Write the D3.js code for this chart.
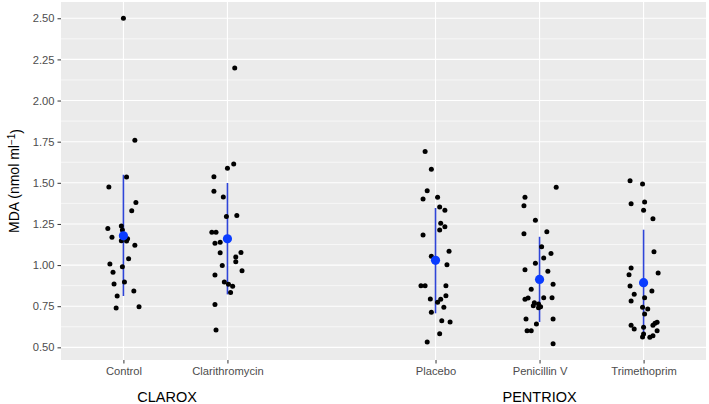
<!DOCTYPE html>
<html>
<head>
<meta charset="utf-8">
<script src="https://cdn.jsdelivr.net/npm/d3@7"></script>
<style>
html,body{margin:0;padding:0;background:#fff;}
svg{display:block;font-family:"Liberation Sans",Arial,sans-serif;}
</style>
</head>
<body>
<svg id="chart" width="709" height="404"></svg>
<script>
// ---- data ----
const categories = ["Control", "Clarithromycin", "Placebo", "Penicillin V", "Trimethoprim"];
const catPositions = [1, 2, 4, 5, 6];
const studyLabels = ["CLAROX", "PENTRIOX"];
const studyPositions = [1.42, 5.0];
const yTicks = [0.5, 0.75, 1.0, 1.25, 1.5, 1.75, 2.0, 2.25, 2.5];

const controlValues = [2.50,1.758,1.535,1.474,1.381,1.330,1.223,1.237,1.213,1.169,1.148,1.160,1.146,1.120,1.039,1.006,0.990,0.956,0.897,0.885,0.842,0.812,0.739,0.747];
const controlJitter = [0,.11,.03,-.14,.12,.08,-.15,-.02,-.01,-.11,-.02,.04,.03,.11,.05,-.13,-.01,-.10,.01,-.09,.10,-.06,-.07,.15];

const clariValues = [2.198,1.614,1.588,1.537,1.448,1.414,1.296,1.302,1.199,1.199,1.132,1.138,1.075,1.077,1.049,1.020,0.998,0.966,0.940,0.897,0.883,0.871,0.834,0.761,0.605];
const clariJitter = [.07,.06,0,-.13,-.13,-.04,-.01,.09,-.15,-.11,-.12,-.07,-.07,.13,.08,.08,-.05,.14,-.12,-.03,.01,.05,.03,-.12,-.11];

const placeboValues = [1.691,1.582,1.452,1.401,1.412,1.353,1.333,1.254,1.233,1.213,1.183,1.084,1.053,1.002,0.874,0.874,0.874,0.814,0.794,0.792,0.774,0.743,0.713,0.662,0.654,0.583,0.532];
const placeboJitter = [-.10,-.04,-.08,-.12,.02,.04,.09,.05,.09,.04,-.12,.13,-.04,.11,-.14,-.10,.10,.10,-.05,.05,.02,.08,-.04,.06,.14,.04,-.08];

const penicillinValues = [1.473,1.412,1.361,1.272,1.191,1.203,1.112,1.071,1.043,1.011,0.972,0.962,0.883,0.853,0.792,0.800,0.802,0.802,0.771,0.753,0.763,0.747,0.741,0.672,0.672,0.642,0.601,0.601,0.522];
const penicillinJitter = [.16,-.14,-.15,-.04,-.15,.07,.02,.11,.04,-.04,-.14,.08,.13,-.08,-.14,-.11,.04,.12,-.05,-.06,-.01,.01,-.01,-.13,.13,-.03,-.12,-.08,.13];

const trimethoprimValues = [1.513,1.493,1.373,1.383,1.333,1.282,1.081,0.982,0.941,0.952,0.873,0.842,0.822,0.781,0.802,0.743,0.733,0.702,0.634,0.611,0.622,0.634,0.646,0.652,0.601,0.581,0.563,0.561,0.571];
const trimethoprimJitter = [-.13,-.01,-.12,.01,0,.09,.10,-.12,-.14,.14,-.13,.08,-.09,-.12,.01,-.01,.04,.01,-.12,-.09,0,.09,.11,.13,.13,0,-.01,.06,.09];

const means = [1.178, 1.160, 1.029, 0.913, 0.893];
const lowers = [0.812, 0.822, 0.707, 0.654, 0.561];
const uppers = [1.549, 1.499, 1.347, 1.172, 1.215];

const groupValues = [controlValues, clariValues, placeboValues, penicillinValues, trimethoprimValues];
const groupJitter = [controlJitter, clariJitter, placeboJitter, penicillinJitter, trimethoprimJitter];

// ---- layout ----
const W = 709, H = 404;
const panel = {left: 61, right: 706, top: 2, bottom: 360};

const allVals = groupValues.flat();
const yMin = d3.min(allVals), yMax = d3.max(allVals);
const yPad = (yMax - yMin) * 0.05;
const y = d3.scaleLinear().domain([yMin - yPad, yMax + yPad]).range([panel.bottom, panel.top]);
const x = d3.scaleLinear().domain([d3.min(catPositions) - 0.6, d3.max(catPositions) + 0.6]).range([panel.left, panel.right]);

const svg = d3.select("#chart");
svg.append("rect").attr("width", W).attr("height", H).attr("fill", "#fff");

// panel background
svg.append("rect")
  .attr("x", panel.left).attr("y", panel.top)
  .attr("width", panel.right - panel.left).attr("height", panel.bottom - panel.top)
  .attr("fill", "#EBEBEB");

// minor horizontal grid
const minorTicks = yTicks.slice(0, -1).map((t, i) => (t + yTicks[i + 1]) / 2);
svg.append("g").selectAll("line").data(minorTicks).join("line")
  .attr("x1", panel.left).attr("x2", panel.right)
  .attr("y1", d => y(d)).attr("y2", d => y(d))
  .attr("stroke", "#fff").attr("stroke-width", 0.6);

// major horizontal grid
svg.append("g").selectAll("line").data(yTicks).join("line")
  .attr("x1", panel.left).attr("x2", panel.right)
  .attr("y1", d => y(d)).attr("y2", d => y(d))
  .attr("stroke", "#fff").attr("stroke-width", 1.1);

// vertical major grid
svg.append("g").selectAll("line").data(catPositions).join("line")
  .attr("y1", panel.top).attr("y2", panel.bottom)
  .attr("x1", d => x(d)).attr("x2", d => x(d))
  .attr("stroke", "#fff").attr("stroke-width", 1.1);

// y axis
const yAxis = d3.axisLeft(y).tickValues(yTicks).tickFormat(d3.format(".2f")).tickSize(3.5).tickPadding(3);
const gy = svg.append("g").attr("transform", `translate(${panel.left},0)`).call(yAxis);
gy.select(".domain").remove();
gy.selectAll(".tick line").attr("stroke", "#333").attr("stroke-width", 1);
gy.selectAll(".tick text").attr("fill", "#4D4D4D").style("font-size", "11.2px").style("font-family", "Liberation Sans, Arial, sans-serif");

// x axis
const xAxis = d3.axisBottom(x).tickValues(catPositions).tickFormat((d, i) => categories[i]).tickSize(3.5).tickPadding(4);
const gx = svg.append("g").attr("transform", `translate(0,${panel.bottom})`).call(xAxis);
gx.select(".domain").remove();
gx.selectAll(".tick line").attr("stroke", "#333").attr("stroke-width", 1);
gx.selectAll(".tick text").attr("fill", "#4D4D4D").style("font-size", "11.2px").style("font-family", "Liberation Sans, Arial, sans-serif");

// study labels
svg.append("g").selectAll("text").data(studyLabels).join("text")
  .attr("x", (d, i) => x(studyPositions[i]))
  .attr("y", 401.5)
  .attr("text-anchor", "middle")
  .attr("fill", "#000")
  .style("font-size", "14.5px")
  .text(d => d);

// y axis title
const yt = svg.append("text")
  .attr("transform", `translate(19,${(panel.top + panel.bottom) / 2}) rotate(-90)`)
  .attr("text-anchor", "middle")
  .attr("fill", "#000")
  .style("font-size", "14px");
yt.append("tspan").text("MDA (nmol ml");
yt.append("tspan").attr("dy", "-0.45em").style("font-size", "10px").text("−1");
yt.append("tspan").attr("dy", "0.45em").text(")");

// error bars
svg.append("g").selectAll("line").data(categories).join("line")
  .attr("x1", (d, i) => x(catPositions[i])).attr("x2", (d, i) => x(catPositions[i]))
  .attr("y1", (d, i) => y(lowers[i])).attr("y2", (d, i) => y(uppers[i]))
  .attr("stroke", "#2F45D8").attr("stroke-width", 1.6);

// points
const pts = [];
groupValues.forEach((vals, g) => vals.forEach((v, k) => pts.push({g, v, j: groupJitter[g][k]})));
svg.append("g").selectAll("circle").data(pts).join("circle")
  .attr("cx", d => x(catPositions[d.g] + d.j))
  .attr("cy", d => y(d.v))
  .attr("r", 2.5)
  .attr("fill", "#000");

// means
svg.append("g").selectAll("circle").data(means).join("circle")
  .attr("cx", (d, i) => x(catPositions[i]))
  .attr("cy", d => y(d))
  .attr("r", 4.6)
  .attr("fill", "#0A3CFF");
</script>
</body>
</html>
